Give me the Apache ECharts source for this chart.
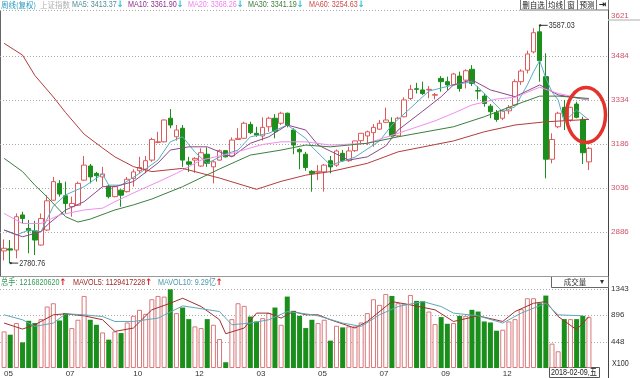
<!DOCTYPE html>
<html>
<head>
<meta charset="utf-8">
<script src="https://cdn.jsdelivr.net/npm/echarts@6/dist/echarts.min.js"></script>
<style>
  html, body { margin: 0; padding: 0; background: #fff; }
  #chart { width: 640px; height: 378px; }
</style>
</head>
<body>
<div id="chart"></div>
<script>
// weekly candles: [open, close, low, high]
const candles = [
  [2822, 2831, 2790, 2861], [2829, 2825, 2780.76, 2859], [2825, 2938, 2797, 2949], [2944, 2932, 2915, 2955],
  [2898, 2890, 2814, 2927], [2890, 2859, 2808, 2924], [2842, 2932, 2840, 2949], [2893, 2992, 2890, 3011],
  [2994, 3057, 2992, 3073], [3051, 3015, 3006, 3062], [3009, 2983, 2949, 3057], [2972, 2983, 2938, 3006],
  [2977, 3051, 2975, 3057], [3062, 3113, 3060, 3144], [3110, 3073, 3051, 3117], [3085, 3077, 3057, 3090],
  [3073, 3083, 3040, 3107], [3042, 3006, 3000, 3045], [3006, 3040, 3004, 3044], [3028, 3011, 2972, 3031],
  [3023, 3065, 3020, 3073], [3068, 3090, 3040, 3099], [3094, 3105, 3085, 3141], [3099, 3128, 3085, 3144],
  [3130, 3200, 3124, 3206], [3190, 3192, 3187, 3226], [3192, 3266, 3190, 3268], [3272, 3249, 3238, 3303],
  [3209, 3232, 3196, 3249], [3238, 3130, 3107, 3249], [3124, 3116, 3090, 3141], [3130, 3136, 3087, 3140],
  [3110, 3155, 3107, 3170], [3150, 3119, 3107, 3173], [3107, 3124, 3051, 3130], [3130, 3162, 3128, 3166],
  [3162, 3141, 3139, 3164], [3144, 3198, 3142, 3207], [3200, 3204, 3199, 3238], [3204, 3255, 3202, 3260],
  [3251, 3223, 3218, 3260], [3221, 3215, 3209, 3243], [3212, 3241, 3196, 3275], [3243, 3272, 3226, 3277],
  [3272, 3228, 3204, 3286], [3255, 3289, 3249, 3294], [3289, 3249, 3241, 3291], [3232, 3181, 3150, 3238],
  [3166, 3158, 3099, 3170], [3150, 3105, 3094, 3158], [3092, 3085, 3023, 3096], [3089, 3092, 3062, 3113],
  [3090, 3113, 3023, 3117], [3128, 3107, 3085, 3144], [3113, 3161, 3107, 3166], [3153, 3128, 3124, 3164],
  [3128, 3161, 3124, 3175], [3162, 3195, 3158, 3196], [3196, 3221, 3187, 3222], [3212, 3226, 3181, 3230],
  [3223, 3241, 3175, 3252], [3235, 3255, 3232, 3266], [3258, 3266, 3256, 3308], [3258, 3212, 3209, 3275],
  [3212, 3272, 3209, 3277], [3277, 3334, 3275, 3343], [3339, 3370, 3334, 3385], [3372, 3370, 3356, 3392],
  [3368, 3356, 3351, 3396], [3368, 3370, 3340, 3381], [3350, 3352, 3336, 3358], [3407, 3396, 3362, 3415],
  [3396, 3385, 3368, 3413], [3385, 3422, 3383, 3426], [3415, 3373, 3362, 3430], [3401, 3433, 3373, 3438],
  [3438, 3390, 3381, 3452], [3366, 3364, 3336, 3381], [3347, 3322, 3311, 3356], [3313, 3294, 3272, 3320],
  [3291, 3268, 3260, 3300], [3272, 3297, 3266, 3300], [3297, 3308, 3286, 3317], [3317, 3396, 3315, 3404],
  [3396, 3432, 3385, 3438], [3435, 3490, 3424, 3501], [3497, 3562, 3492, 3577], [3565, 3467, 3396, 3587.03],
  [3413, 3133, 3068, 3492], [3133, 3200, 3119, 3221], [3243, 3289, 3238, 3294], [3309, 3277, 3232, 3334],
  [3266, 3309, 3260, 3311], [3320, 3275, 3272, 3328], [3268, 3155, 3117, 3277], [3124, 3170, 3096, 3175]
];

const volumes = [
  622, 566, 764, 436, 803, 764, 831, 1045, 1101, 808, 933, 679, 820, 1225, 820, 735, 605, 482, 622, 594,
  774, 887, 989, 921, 1169, 1225, 1214, 1338, 933, 1028, 831, 707, 679, 831, 735, 493, 98, 831, 1101, 1056,
  875, 791, 848, 933, 1028, 735, 1214, 972, 887, 679, 820, 764, 820, 465, 718, 690, 707, 707, 774, 933,
  1169, 1073, 1259, 1225, 1101, 1095, 1242, 1141, 1135, 960, 747, 865, 752, 764, 887, 887, 989, 960, 791, 774,
  634, 651, 791, 831, 1000, 1186, 1186, 1101, 1231, 414, 284, 831, 831, 831, 887, 865
];

// moving averages: [week index, value]
const ma5 = [[0,2893],[2,2876],[4,2893],[6,2887],[8,2974],[10,3012],[13,3040],[16,3083],[17,3045],[19,3045],
  [22,3085],[25,3130],[27,3192],[29,3209],[31,3157],[33,3119],[36,3151],[38,3164],[40,3209],[43,3221],[46,3249],
  [49,3204],[50,3175],[53,3113],[57,3140],[61,3195],[63,3249],[66,3306],[69,3364],[73,3385],[76,3396],[78,3356],
  [81,3294],[83,3311],[85,3385],[86,3429],[87,3467],[88,3408],[89,3361],[90,3334],[91,3260],[93,3300],[95,3266]];
const ma10 = [[0,2893],[3,2870],[6,2887],[7,2910],[10,2961],[13,2989],[16,3040],[18,3040],[21,3057],[25,3120],
  [27,3164],[30,3175],[33,3175],[37,3141],[40,3187],[43,3209],[46,3249],[49,3232],[51,3181],[56,3130],[59,3141],
  [62,3178],[64,3232],[68,3296],[71,3345],[73,3385],[76,3402],[79,3368],[83,3345],[87,3385],[90,3351],[95,3334]];
const ma20 = [[0,2949],[3,2915],[6,2915],[9,2944],[13,2961],[16,2967],[18,2989],[22,3028],[25,3056],[28,3085],
  [32,3130],[35,3144],[37,3153],[42,3183],[45,3192],[49,3192],[53,3181],[59,3187],[64,3221],[70,3263],[73,3289],
  [76,3317],[80,3337],[83,3343],[87,3377],[90,3356],[95,3334]];
const ma30 = [[0,3136],[3,3091],[5,3045],[7,3005],[10,2938],[12,2920],[14,2930],[18,2961],[21,2978],[24,2998],
  [29,3040],[35,3100],[40,3147],[45,3164],[49,3181],[53,3175],[59,3187],[64,3209],[73,3243],[78,3277],[83,3317],
  [87,3347],[90,3347],[95,3339]];
const ma60 = [[0,3526],[3,3486],[5,3417],[8,3344],[10,3291],[13,3218],[16,3171],[18,3141],[21,3108],[24,3091],
  [29,3102],[35,3069],[41,3031],[45,3058],[49,3079],[53,3091],[59,3119],[64,3158],[73,3195],[78,3226],[83,3249],
  [88,3260],[95,3268]];
const mavol5 = [[0,764],[3,662],[5,735],[8,904],[10,921],[13,887],[16,820],[18,622],[21,679],[24,989],[27,1101],
  [29,1186],[32,1045],[35,820],[36,583],[39,679],[41,933],[43,933],[45,848],[47,960],[49,904],[51,904],[53,820],
  [57,679],[59,791],[63,1129],[66,1073],[70,989],[73,791],[77,887],[81,791],[83,960],[86,1101],[88,1129],[90,875],
  [93,651],[95,875]];
const mavol10 = [[0,904],[3,820],[5,707],[8,764],[10,921],[13,904],[16,875],[18,791],[21,791],[25,848],[29,1056],
  [35,960],[37,735],[40,764],[43,820],[46,960],[49,921],[51,887],[55,764],[58,707],[61,904],[64,1045],[68,1129],
  [71,1045],[73,933],[77,887],[81,764],[84,933],[88,1101],[90,904],[94,887]];

const priceTicks = [2886, 3036, 3186, 3334, 3484];
const priceTopLabel = 3621;
const volTicks = [448, 896, 1343];
const monthIdx = [0, 10, 21, 31, 41, 51, 61, 71, 81];
const monthText = ['05', '07', '10', '12', '03', '05', '07', '09', '12'];
const weeks = candles.map((d, i) => String(i));

const NUM = "'Liberation Sans', 'Noto Sans CJK SC', sans-serif";
const ARROW = "bold 9px 'DejaVu Sans'";
const UP = '#de5a5a', DOWN = '#1b8f1b';
const SQ = 0.8;   // horizontal squeeze for the narrow screen font

const volData = volumes.map((v, i) => {
  const up = candles[i][1] >= candles[i][0];
  return { value: v, itemStyle: up ? { color: '#fff', borderColor: '#d9777a', borderWidth: 1 } : { color: DOWN } };
});

const lineSeries = (name, data, color, x) => ({
  name, type: 'line', data, xAxisIndex: x, yAxisIndex: x, symbol: 'none', silent: true,
  lineStyle: { width: 1, color }, z: 3
});

const chart = echarts.init(document.getElementById('chart'));
chart.setOption({
  animation: false,
  backgroundColor: '#fff',
  grid: [
    { left: 1, top: 10, width: 591, height: 266 },
    { left: 1, top: 289, width: 591, height: 79 }
  ],
  xAxis: [
    { type: 'category', gridIndex: 0, data: weeks, axisLine: { show: false }, axisTick: { show: false }, axisLabel: { show: false } },
    { type: 'category', gridIndex: 1, data: weeks, axisLine: { show: false }, axisTick: { show: false },
      axisLabel: { interval: 0, margin: 2, align: 'left', color: '#333', fontSize: 8, fontFamily: NUM,
        formatter: (v, i) => { const k = monthIdx.indexOf(i); return k >= 0 ? monthText[k] : ''; } } }
  ],
  yAxis: [
    { type: 'value', gridIndex: 0, position: 'right', offset: 16, min: 2737, max: 3639, splitLine: { show: false },
      axisLine: { show: false }, axisTick: { show: false, customValues: priceTicks.concat([priceTopLabel]) },
      axisLabel: { customValues: priceTicks.concat([priceTopLabel]), formatter: v => String(Math.round(v)),
        margin: 3, color: '#d0546a', fontSize: 8, fontFamily: NUM } },
    { type: 'value', gridIndex: 1, position: 'right', offset: 16, min: 0, max: 1343, splitLine: { show: false },
      axisLine: { show: false }, axisTick: { show: false, customValues: volTicks },
      axisLabel: { customValues: volTicks, formatter: v => String(Math.round(v)),
        margin: 3, color: '#333', fontSize: 8, fontFamily: NUM } }
  ],
  series: [
    { type: 'candlestick', data: candles, xAxisIndex: 0, yAxisIndex: 0, barWidth: 5, silent: true,
      itemStyle: { color: '#fff', color0: DOWN, borderColor: UP, borderColor0: DOWN, borderWidth: 1 } },
    lineSeries('MA5', ma5, '#5aaec2', 0),
    lineSeries('MA10', ma10, '#8a4a8c', 0),
    lineSeries('MA20', ma20, '#f08ef0', 0),
    lineSeries('MA30', ma30, '#3b7f3f', 0),
    lineSeries('MA60', ma60, '#b43c3c', 0),
    { type: 'bar', data: volData, xAxisIndex: 1, yAxisIndex: 1, barWidth: 5, silent: true },
    lineSeries('MAVOL5', mavol5, '#a03030', 1),
    lineSeries('MAVOL10', mavol10, '#5fa8b8', 1)
  ]
});

// frame, grid lines, texts and notes
const g = [];
const measure = document.createElement('canvas').getContext('2d');
measure.font = '9px ' + NUM;
const widthOf = t => measure.measureText(t).width * SQ;

const hline = (y, x1, x2, stroke, dash, w) => g.push({ type: 'line', silent: true, z: 1,
  shape: { x1, y1: y, x2, y2: y }, style: { stroke, lineWidth: w || 1, lineDash: dash || null } });
const txt = (x, y, text, fill, font, align) => g.push({ type: 'text', silent: true, z: 10, x, y,
  scaleX: font ? 1 : SQ,
  style: { text, fill, font: font || ('9px ' + NUM), textAlign: align || 'left', textVerticalAlign: 'middle' } });
// label followed by a little arrow
const tagged = (x, y, t, c, arrow, ac) => {
  txt(x, y, t, c);
  txt(x + widthOf(t) + 3.5, y, arrow, ac, ARROW, 'center');
};

priceTicks.forEach(v => hline(Math.round(chart.convertToPixel({ yAxisIndex: 0 }, v)) + 0.5, 0, 608, '#aaa', [1, 2]));
volTicks.forEach(v => hline(Math.round(chart.convertToPixel({ yAxisIndex: 1 }, v)) + 0.5, 0, 608, '#aaa', [1, 2]));
hline(10.5, 0, 520, '#aaa', [1, 2]);
hline(276.5, 0, 608, '#999');
hline(20, 608, 640, '#c8c8c8', null, 1.5);
g.push({ type: 'line', silent: true, shape: { x1: 608.5, y1: 0, x2: 608.5, y2: 378 }, style: { stroke: '#444', lineWidth: 1 } });
g.push({ type: 'line', silent: true, shape: { x1: 0.5, y1: 10, x2: 0.5, y2: 276 }, style: { stroke: '#666', lineWidth: 1 } });

// header
const CJK = "7.5px 'Noto Sans CJK SC', sans-serif";
txt(1, 5, '周线(复权)', '#2a9bc0', CJK);
txt(40, 5, '上证指数', '#b0b0b0', CJK);
tagged(72, 5, 'MA5: 3413.37', '#4f8e9e', '↓', '#30c0d8');
tagged(128, 5, 'MA10: 3361.90', '#8e3090', '↓', '#30c0d8');
tagged(188, 5, 'MA20: 3368.26', '#f080f0', '↓', '#30c0d8');
tagged(248, 5, 'MA30: 3341.19', '#3a7d3a', '↓', '#30c0d8');
tagged(309, 5, 'MA60: 3254.63', '#d04848', '↓', '#30c0d8');

// buttons
[[520.5, 26, '删自选'], [546.5, 18, '均线'], [564.5, 13, '窗'], [577.5, 19, '预测'], [596.5, 12, '⇥']].forEach(([x, w, t]) => {
  g.push({ type: 'rect', silent: true, shape: { x, y: -1, width: w, height: 11 }, style: { fill: '#fff', stroke: '#777' } });
  txt(x + w / 2, 5, t, '#222', t === '⇥' ? "bold 9px 'DejaVu Sans'" : CJK, 'center');
});

// volume legend
tagged(1, 283, '总手: 1216820620', '#3a9a5a', '↑', '#e02020');
tagged(73, 283, 'MAVOL5: 1129417228', '#a52a2a', '↑', '#e02020');
tagged(158, 283, 'MAVOL10: 9.29亿', '#4a98a8', '↑', '#e02020');
g.push({ type: 'rect', silent: true, shape: { x: 551.5, y: 276.5, width: 57, height: 11 }, style: { fill: '#fff', stroke: '#666' } });
txt(575, 282, '成交量', '#333', CJK, 'center');
txt(602, 282, '▾', '#333', "8px 'DejaVu Sans'", 'center');
txt(612, 364, 'X100', '#333');

// date box
g.push({ type: 'rect', silent: true, shape: { x: 549.5, y: 367.5, width: 50, height: 10 }, style: { fill: '#fff', stroke: '#555' } });
txt(551, 373, '2018-02-09,五', '#222');

// extreme notes
const hi = chart.convertToPixel({ xAxisIndex: 0, yAxisIndex: 0 }, [87, 3587.03]);
const lo = chart.convertToPixel({ xAxisIndex: 0, yAxisIndex: 0 }, [1, 2780.76]);
[[hi, '3587.03'], [lo, '2780.76']].forEach(([p, t]) => {
  g.push({ type: 'line', silent: true, z: 10, shape: { x1: p[0], y1: p[1], x2: p[0] + 8, y2: p[1] }, style: { stroke: '#333' } });
  g.push({ type: 'circle', silent: true, z: 10, shape: { cx: p[0] + 0.5, cy: p[1], r: 1.2 }, style: { fill: '#333' } });
  txt(p[0] + 9, p[1], t, '#333');
});

// red circle
g.push({ type: 'ellipse', silent: true, z: 20, shape: { cx: 586, cy: 115, rx: 19.5, ry: 27.5 },
  style: { fill: 'none', stroke: '#e5332b', lineWidth: 3.5 } });

chart.setOption({ graphic: g });
</script>
</body>
</html>
